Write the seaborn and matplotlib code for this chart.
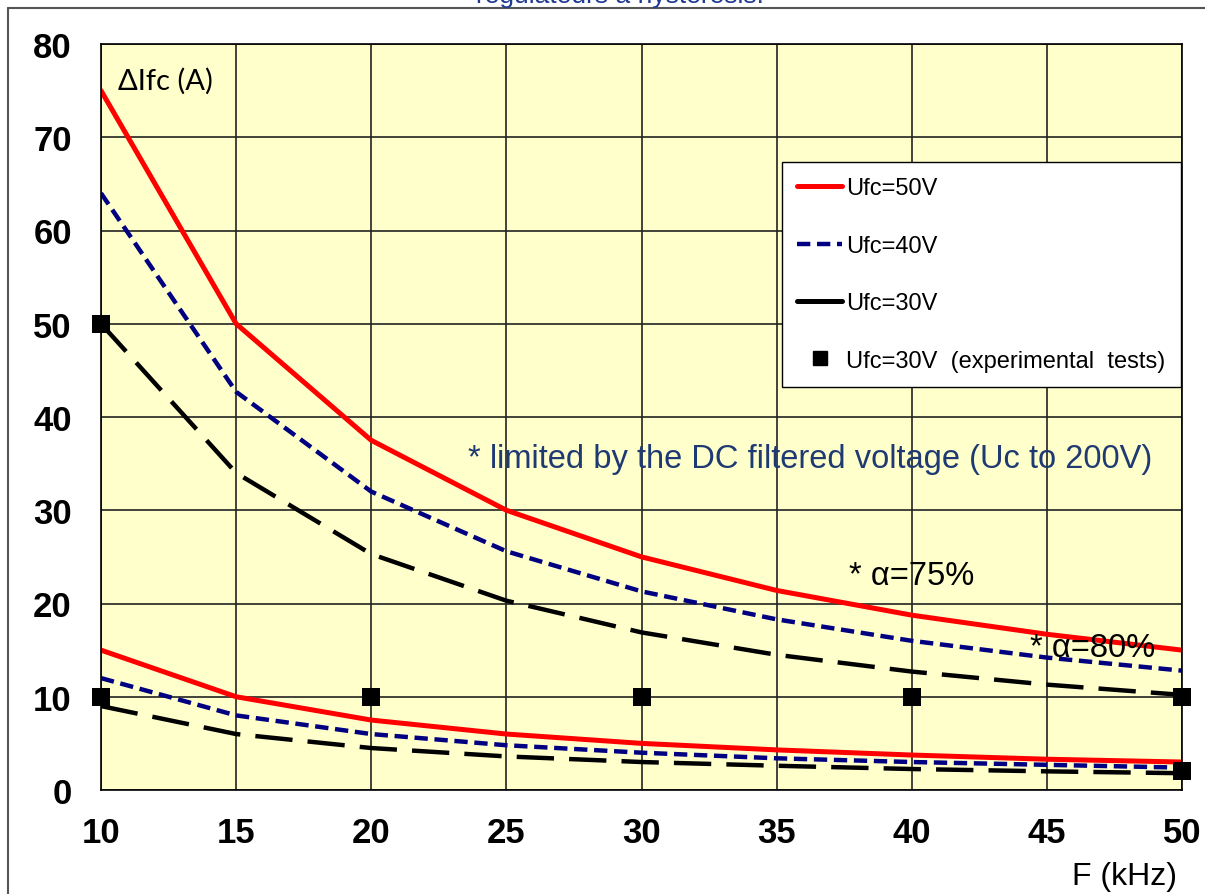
import numpy as np
import pandas as pd
import seaborn as sns
import matplotlib.pyplot as plt
from matplotlib.lines import Line2D

# frequency (kHz)
freq = [10, 15, 20, 25, 30, 35, 40, 45, 50]

# ripple current dIfc (A), alpha=75% (upper) and alpha=80% (lower)
ufc50_high = [75, 50, 37.5, 30, 25, 21.4, 18.75, 16.7, 15]
ufc40_high = [64, 42.7, 32, 25.6, 21.3, 18.3, 16, 14.2, 12.8]
ufc30_high = [50, 34, 25.3, 20.3, 16.9, 14.5, 12.7, 11.3, 10.2]
ufc50_low = [15, 10, 7.5, 6, 5, 4.3, 3.75, 3.3, 3]
ufc40_low = [12, 8, 6, 4.8, 4, 3.4, 3, 2.7, 2.4]
ufc30_low = [9, 6, 4.5, 3.6, 3, 2.6, 2.25, 2, 1.8]

# experimental tests at Ufc=30V
test_freq = [10, 10, 20, 30, 40, 50, 50]
test_current = [50, 10, 10, 10, 10, 10, 2]

x_ticks = [10, 15, 20, 25, 30, 35, 40, 45, 50]
y_ticks = [0, 10, 20, 30, 40, 50, 60, 70, 80]

sns.set_theme(style="white")
plt.rcParams['font.family'] = ['Liberation Sans', 'DejaVu Sans']
plt.rcParams['text.color'] = 'black'
plt.rcParams['xtick.color'] = 'black'
plt.rcParams['ytick.color'] = 'black'

fig = plt.figure(figsize=(12.05, 8.95), dpi=100)
ax = fig.add_axes([101 / 1205, 1 - 791 / 895, 1081 / 1205, 746 / 895])
ax.set_facecolor('#FFFFCC')

red = '#FF0000'
navy = '#000080'
styles = {
    'Ufc=50V': dict(color=red, linestyle='-', linewidth=3.6),
    'Ufc=40V': dict(color=navy, linestyle=(0, (3.0, 1.5)), linewidth=3.2),
    'Ufc=30V': dict(color='black', linestyle=(0, (8.4, 3.4)), linewidth=3.2),
}
curves = [
    ('Ufc=50V', ufc50_high), ('Ufc=50V', ufc50_low),
    ('Ufc=40V', ufc40_high), ('Ufc=40V', ufc40_low),
    ('Ufc=30V', ufc30_high), ('Ufc=30V', ufc30_low),
]
for name, values in curves:
    sns.lineplot(x=freq, y=values, ax=ax, **styles[name])

sns.scatterplot(x=test_freq, y=test_current, ax=ax, marker='s', s=150,
                color='black', linewidth=0, zorder=5, clip_on=False)

ax.set_xlim(10, 50)
ax.set_ylim(0, 80)
ax.set_xticks(x_ticks)
ax.set_yticks(y_ticks)
ax.grid(True, color='#222222', linewidth=1.2)
ax.set_axisbelow(True)
for sp in ax.spines.values():
    sp.set_color('black')
    sp.set_linewidth(1.2)
ax.tick_params(axis='both', direction='out', length=8, width=1.2, color='#222222',
               labelsize=25)
ax.tick_params(axis='y', pad=13)
ax.tick_params(axis='x', pad=11)
for lab in ax.get_xticklabels() + ax.get_yticklabels():
    lab.set_fontweight('bold')
ax.set_xlabel('')
ax.set_ylabel('')

# legend
handles = [
    Line2D([], [], **styles['Ufc=50V']),
    Line2D([], [], **styles['Ufc=40V']),
    Line2D([], [], linewidth=3.6, color='black', linestyle='-'),
    Line2D([], [], linestyle='none', marker='s', markersize=10, color='black'),
]
labels = ['Ufc=50V', 'Ufc=40V', 'Ufc=30V', 'Ufc=30V  (experimental  tests)']
leg = ax.legend(handles, labels, loc='upper left', bbox_to_anchor=(0.630, 0.8418),
                fontsize=17, frameon=True, fancybox=False, handlelength=1.9,
                handletextpad=0.17, labelspacing=1.5, borderpad=0.65,
                borderaxespad=0)
leg.get_frame().set_edgecolor('black')
leg.get_frame().set_linewidth(1.0)
leg.get_frame().set_facecolor('white')
leg.get_frame().set_alpha(1)

# annotations
ax.text(10.62, 76.1, 'ΔIfc (A)', fontsize=21, family=['Lato', 'DejaVu Sans'],
        va='center', ha='left')
ax.text(23.58, 35.5, '* limited by the DC filtered voltage (Uc to 200V)',
        fontsize=23.5, color='#1F3A73', va='center', ha='left')
ax.text(37.68, 22.95, '* α=75%', fontsize=23.5, va='center', ha='left')
ax.text(44.38, 15.3, '* α=80%', fontsize=23.5, va='center', ha='left')
fig.text(1177 / 1205, 1 - 877 / 895, 'F (kHz)', fontsize=23, ha='right', va='center')

# title cut off at the top
fig.text(620 / 1205, 1 - 3 / 895, 'régulateurs à hystérésis.', fontsize=19,
         color='#1F3A93', ha='center', va='baseline')

# outer chart frame
fig.add_artist(Line2D([8 / 1205, 8 / 1205], [0, 1 - 9 / 895], color='#555555',
                      linewidth=1.5, transform=fig.transFigure))
fig.add_artist(Line2D([8 / 1205, 1], [1 - 9 / 895, 1 - 9 / 895], color='#555555',
                      linewidth=1.5, transform=fig.transFigure))

fig.savefig('out.png', dpi=100, facecolor='white')
